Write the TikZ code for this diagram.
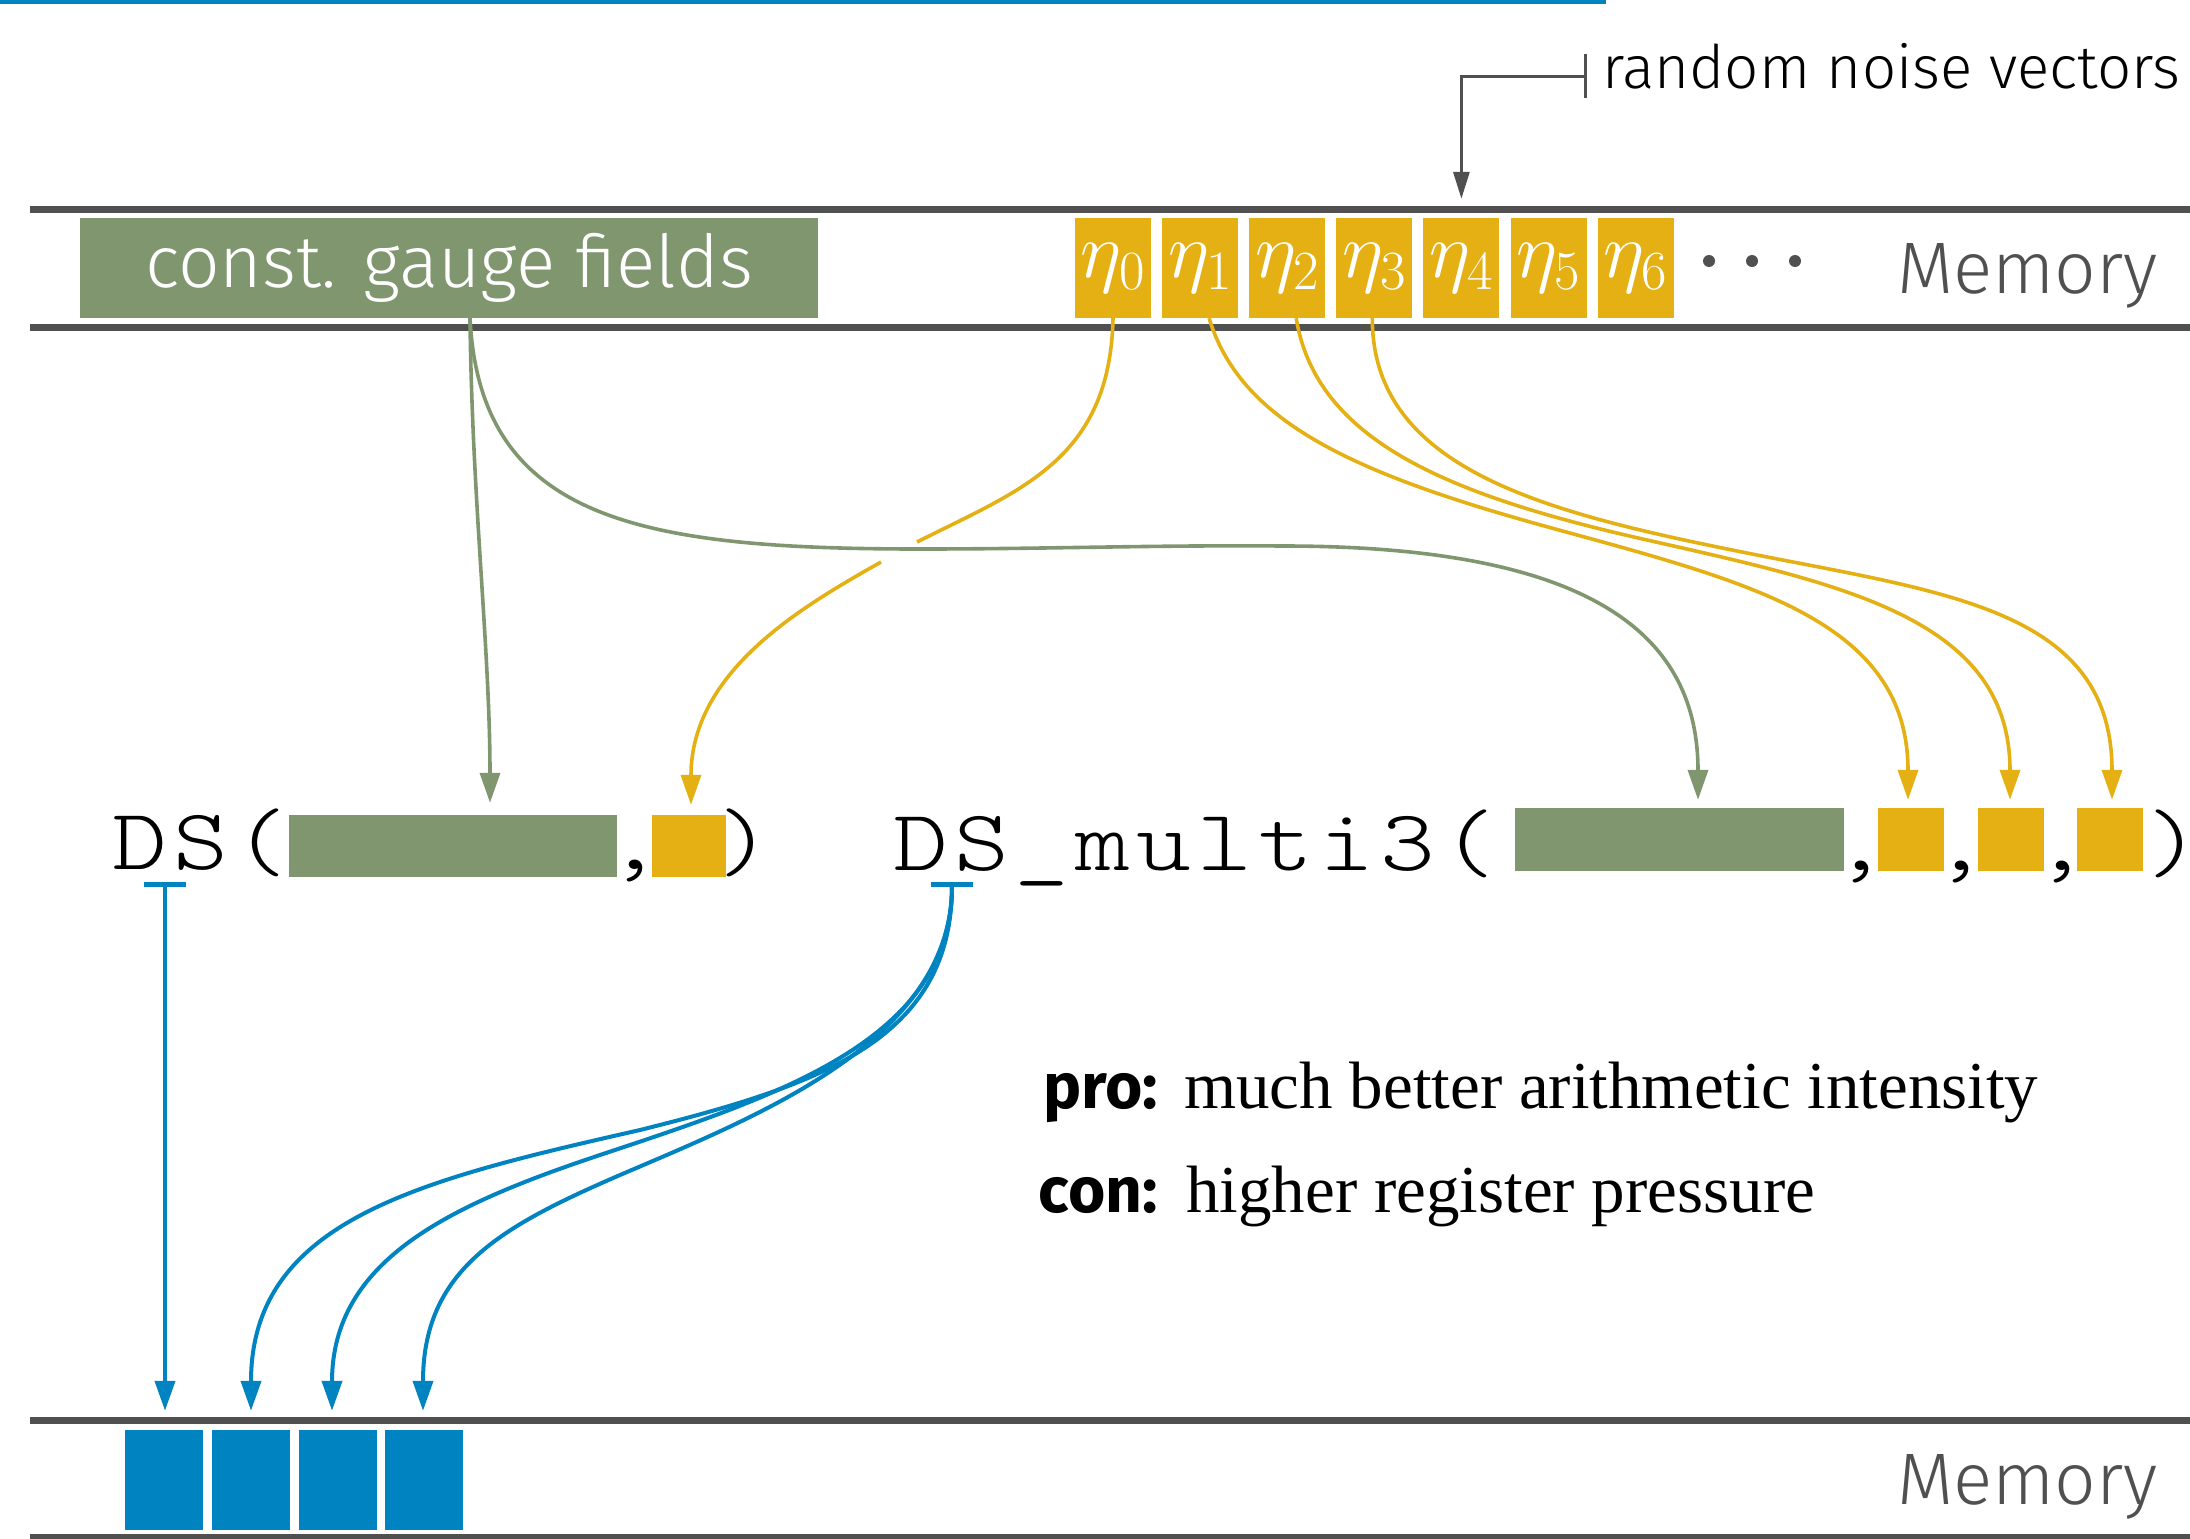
\documentclass[tikz,border=0pt]{standalone}
\usepackage{fix-cm}
\usepackage{fontspec}
\setmainfont{Liberation Serif}
\newfontfamily\firal{Fira Sans Light}
\newfontfamily\fira{Fira Sans}
\newfontfamily\codefont{lmmonolt10-regular.otf}[FakeStretch=1.2,LetterSpace=7]
\newfontfamily\codeplain{lmmonolt10-regular.otf}[FakeStretch=1.2]
\usetikzlibrary{arrows.meta}
\definecolor{gf}{HTML}{7F966E}
\definecolor{yl}{HTML}{E5B013}
\definecolor{bl}{HTML}{0083C1}
\definecolor{gr}{HTML}{505050}
\tikzset{
  box/.style={inner sep=0pt, draw=none},
  ybox/.style={box, fill=yl, minimum width=76pt, minimum height=100pt, text=white, font=\fontsize{79}{82}\selectfont},
  gcurve/.style={draw=gf, line width=3.6pt},
  ycurve/.style={draw=yl, line width=3.6pt},
  bcurve/.style={draw=bl, line width=4pt},
  tipend/.style={-{Triangle[length=30pt,width=20pt]}},
  barstart/.style={{Bar[width=42pt,line width=5pt]}-{Triangle[length=30pt,width=20pt]}},
  codetxt/.style={anchor=base west, inner sep=0pt, font=\codefont\fontsize{87}{90}\selectfont},
  punct/.style={anchor=base, inner sep=0pt, font=\codeplain\fontsize{87}{90}\selectfont},
  memlabel/.style={anchor=base west, inner sep=0pt, text=gr, font=\firal\fontsize{73}{78}\selectfont},
  memline/.style={draw=gr, line width=7.5pt},
}
\begin{document}
\begin{tikzpicture}[x=1pt, y=-1pt]
\useasboundingbox (0,0) rectangle (2190,1539);
% top rule
\draw[bl, line width=4pt] (0,2) -- (1606,2);
% memory lines
\draw[memline] (30,209.5) -- (2190,209.5);
\draw[memline] (30,327.5) -- (2190,327.5);
\draw[memline] (30,1420.5) -- (2190,1420.5);
\draw[memline] (30,1538) -- (2190,1538);

% top memory contents
\node[box, fill=gf, minimum width=738pt, minimum height=100pt, text=white,
      font=\firal\fontsize{73}{78}\selectfont] (gauge) at (449,268) {const. gauge fields};
\foreach \i in {0,...,6}
  \node[ybox] (e\i) at ({1113+87.1*\i},268) {$\eta_{\i}$};
\fill[gr] (1709,261) circle (6pt) (1752,261) circle (6pt) (1795,261) circle (6pt);
\node[memlabel] (memtop) at (1897,293) {Memory};

% noise label
\node[anchor=base west, inner sep=0pt, font=\firal\fontsize{60}{64}\selectfont] (noise) at (1602,88) {random noise vectors};
\draw[gr, line width=3pt, {Bar[width=44pt]}-{Triangle[length=27pt,width=16pt]}]
  ([xshift=-15pt,yshift=12pt]noise.base west) -| ([yshift=19pt]e4.north);

% middle row: DS(...)
\node[codetxt] (ds) at (112,869) {DS(};
\node[box, fill=gf, minimum width=328pt, minimum height=62pt] (gds) at (453,846) {};
\node[punct] (c0) at (635,869) {,};
\node[box, fill=yl, minimum width=74pt, minimum height=62pt] (yds) at (689,846) {};
\node[punct] (p0) at (745,869) {)};

% DS_multi3(...)
\node[codetxt] (dsm) at (893,870) {DS\_multi3(};
\node[box, fill=gf, minimum width=329pt, minimum height=63pt] (gdsm) at (1679.5,839.5) {};
\node[punct] (c1) at (1861,870) {,};
\node[box, fill=yl, minimum width=66pt, minimum height=63pt] (y1) at (1911,839.5) {};
\node[punct] (c2) at (1961,870) {,};
\node[box, fill=yl, minimum width=66pt, minimum height=63pt] (y2) at (2011,839.5) {};
\node[punct] (c3) at (2062,870) {,};
\node[box, fill=yl, minimum width=66pt, minimum height=63pt] (y3) at (2110,839.5) {};
\node[punct] (p1) at (2174,870) {\makebox[0pt]{)}};

% pro / con
\node[anchor=base east, inner sep=0pt, font=\fira\bfseries\fontsize{64}{70}\selectfont] (pro) at (1158,1108) {pro:};
\node[anchor=base west, inner sep=0pt, font=\fontsize{67}{70}\selectfont] (protxt) at (1184,1108) {much better arithmetic intensity};
\node[anchor=base east, inner sep=0pt, font=\fira\bfseries\fontsize{64}{70}\selectfont] (con) at (1158,1212) {con:};
\node[anchor=base west, inner sep=0pt, font=\fontsize{67}{70}\selectfont] (contxt) at (1186,1212) {higher register pressure};

% bottom memory contents
\foreach \i/\x in {0/164,1/251,2/338,3/424}
  \node[box, fill=bl, minimum width=78pt, minimum height=100pt] (b\i) at (\x,1480) {};
\node[memlabel] (membot) at (1897,1504) {Memory};

% green connectors
\draw[gcurve, tipend] ([xshift=21pt]gauge.south) .. controls (472,500) and (490,650) .. ([xshift=37pt,yshift=12pt]gds.north);
\draw[gcurve, tipend] ([xshift=21pt]gauge.south) .. controls (480,520) and (640,549) .. (920,549)
  .. controls (1050,549) and (1150,545) .. (1283,546)
  .. controls (1600,546) and (1698,640) .. ([xshift=18.5pt,yshift=8pt]gdsm.north);

% yellow connectors
\coordinate (gapA) at (917,542);
\coordinate (gapB) at (881,562);
\draw[ycurve] (e0.south) .. controls (1110,460) and (1020,490) .. (gapA);
\draw[ycurve, tipend] (gapB) .. controls (805,605) and (691,670) .. ([xshift=2pt,yshift=10pt]yds.north);
\draw[ycurve, tipend] ([xshift=9pt]e1.south) .. controls (1240,420) and (1348,472) .. (1548,527)
  .. controls (1748,582) and (1908,620) .. ([xshift=-3pt,yshift=8pt]y1.north);
\draw[ycurve, tipend] ([xshift=9pt]e2.south) .. controls (1316,440) and (1447,495) .. (1647,540)
  .. controls (1847,585) and (2010,620) .. ([xshift=-1pt,yshift=8pt]y2.north);
\draw[ycurve, tipend] ([xshift=-2pt]e3.south) .. controls (1372,470) and (1547,513) .. (1747,553)
  .. controls (1947,593) and (2112,610) .. ([xshift=2pt,yshift=8pt]y3.north);

% blue connectors
\coordinate (tds) at (165,882);
\coordinate (tdsm) at (952,882);
\draw[bcurve, barstart] (tds) -- ([xshift=1pt,yshift=19pt]b0.north);
\draw[bcurve, barstart] (tdsm) .. controls (952,1040) and (820,1085) .. (640,1130)
  .. controls (420,1180) and (251,1220) .. ([yshift=19pt]b1.north);
\draw[bcurve, barstart] (tdsm) .. controls (952,1040) and (780,1095) .. (600,1155)
  .. controls (450,1205) and (332,1260) .. ([xshift=-6pt,yshift=19pt]b2.north);
\draw[bcurve, barstart] (tdsm) .. controls (952,1040) and (760,1115) .. (620,1175)
  .. controls (500,1227) and (423,1270) .. ([xshift=-1pt,yshift=19pt]b3.north);
\end{tikzpicture}
\end{document}
